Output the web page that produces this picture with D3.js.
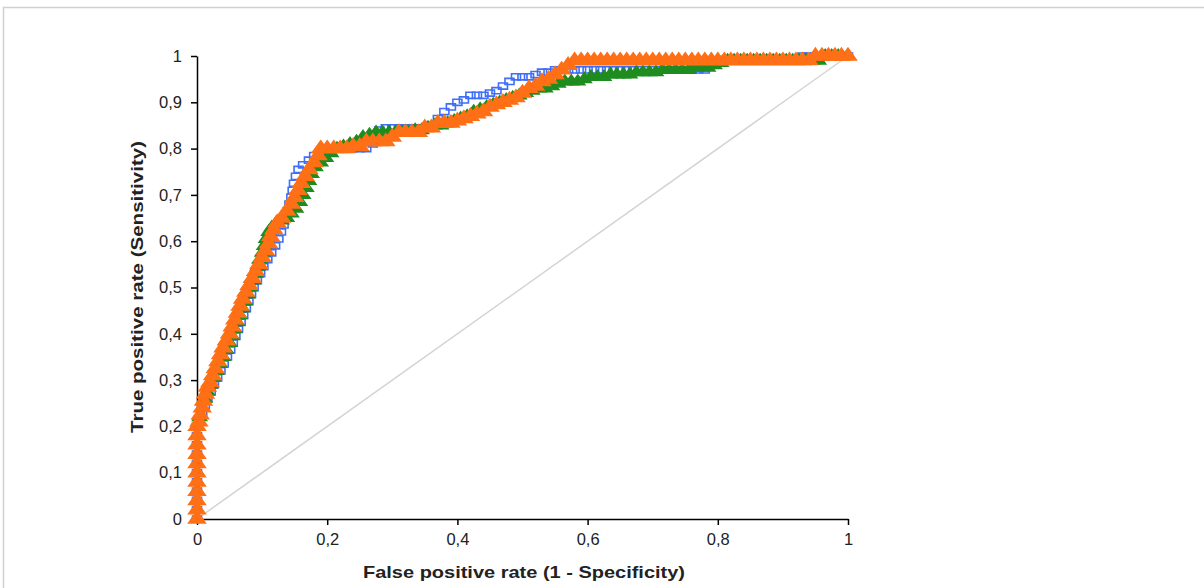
<!DOCTYPE html>
<html lang="en">
<head>
  <meta charset="UTF-8">
  <title>ROC curves</title>
  <script src="https://d3js.org/d3.v7.min.js"></script>
  <style>
    body { margin: 0; background: #fff; }
    text { font-family: Arial, "Liberation Sans", sans-serif; fill: #222; }
  </style>
</head>
<body>
  <script>
    // tick values and their labels (comma decimal)
    const xTicks = [0, 0.2, 0.4, 0.6, 0.8, 1];
    const xTickLabels = ["0", "0,2", "0,4", "0,6", "0,8", "1"];
    const yTicks = [0, 0.1, 0.2, 0.3, 0.4, 0.5, 0.6, 0.7, 0.8, 0.9, 1];
    const yTickLabels = ["0", "0,1", "0,2", "0,3", "0,4", "0,5", "0,6", "0,7", "0,8", "0,9", "1"];

    // ROC points [fpr, tpr]
    const blueRoc = [
      [0,0],[0,0.02],[0,0.04],[0,0.06],[0,0.08],[0,0.1],[0,0.12],[0,0.14],[0,0.16],[0,0.18],[0,0.2],
      [0.004,0.215],[0.008,0.23],[0.012,0.245],[0.016,0.26],[0.021,0.275],[0.026,0.29],[0.031,0.305],
      [0.036,0.32],[0.041,0.335],[0.046,0.35],[0.051,0.365],[0.055,0.38],[0.059,0.395],[0.063,0.41],
      [0.067,0.425],[0.071,0.44],[0.075,0.455],[0.079,0.47],[0.083,0.485],[0.087,0.5],[0.092,0.515],
      [0.097,0.53],[0.102,0.545],[0.108,0.56],[0.114,0.575],[0.12,0.59],[0.125,0.605],[0.129,0.62],
      [0.133,0.635],[0.136,0.65],[0.139,0.665],[0.142,0.68],[0.145,0.695],[0.147,0.71],[0.149,0.725],
      [0.152,0.74],[0.156,0.755],[0.163,0.765],[0.172,0.775],[0.18,0.785],[0.19,0.79],[0.2,0.8],
      [0.21,0.8],[0.22,0.8],[0.23,0.8],[0.24,0.8],[0.25,0.8],[0.26,0.8],[0.27,0.81],[0.275,0.825],
      [0.28,0.84],[0.29,0.845],[0.3,0.845],[0.31,0.845],[0.32,0.845],[0.33,0.845],[0.34,0.845],
      [0.35,0.845],[0.36,0.85],[0.37,0.865],[0.38,0.88],[0.39,0.89],[0.4,0.9],[0.41,0.905],
      [0.42,0.915],[0.43,0.915],[0.44,0.915],[0.45,0.92],[0.46,0.925],[0.47,0.935],[0.48,0.945],
      [0.49,0.955],[0.5,0.955],[0.51,0.955],[0.52,0.96],[0.53,0.965],[0.54,0.965],[0.55,0.97],
      [0.56,0.97],[0.57,0.97],[0.58,0.97],[0.59,0.97],[0.6,0.97],[0.61,0.97],[0.62,0.97],[0.63,0.97],
      [0.64,0.97],[0.65,0.97],[0.66,0.97],[0.67,0.97],[0.68,0.97],[0.69,0.97],[0.7,0.97],[0.71,0.97],
      [0.72,0.97],[0.73,0.97],[0.74,0.97],[0.75,0.97],[0.76,0.97],[0.77,0.97],[0.78,0.97],[0.79,0.98],
      [0.8,0.99],[0.81,0.99],[0.82,0.99],[0.83,0.99],[0.84,0.99],[0.85,0.99],[0.86,0.99],[0.87,0.99],
      [0.88,0.99],[0.89,0.99],[0.9,0.99],[0.91,0.99],[0.92,0.99],[0.93,1],[0.94,1],[0.95,1],[0.96,1],
      [0.97,1],[0.98,1],[0.99,1],[1,1]
    ];
    const greenRoc = [
      [0,0],[0,0.02],[0,0.04],[0,0.06],[0,0.08],[0,0.1],[0,0.12],[0,0.14],[0,0.16],[0,0.18],[0,0.2],
      [0.004,0.22],[0.008,0.24],[0.012,0.26],[0.016,0.275],[0.02,0.29],[0.025,0.305],[0.03,0.32],
      [0.035,0.335],[0.04,0.35],[0.045,0.365],[0.05,0.38],[0.054,0.395],[0.058,0.41],[0.062,0.425],
      [0.066,0.44],[0.07,0.455],[0.074,0.47],[0.078,0.485],[0.082,0.5],[0.086,0.515],[0.09,0.53],
      [0.093,0.545],[0.096,0.56],[0.1,0.575],[0.103,0.59],[0.106,0.605],[0.11,0.62],[0.115,0.63],
      [0.122,0.64],[0.13,0.645],[0.138,0.65],[0.145,0.66],[0.152,0.67],[0.158,0.685],[0.163,0.7],
      [0.168,0.715],[0.172,0.73],[0.176,0.745],[0.182,0.76],[0.19,0.77],[0.198,0.78],[0.206,0.79],
      [0.215,0.8],[0.225,0.805],[0.235,0.81],[0.245,0.815],[0.255,0.825],[0.265,0.83],[0.275,0.835],
      [0.285,0.835],[0.295,0.835],[0.305,0.835],[0.315,0.835],[0.325,0.835],[0.335,0.84],[0.345,0.84],
      [0.355,0.845],[0.365,0.85],[0.375,0.85],[0.385,0.855],[0.395,0.86],[0.405,0.865],[0.415,0.87],
      [0.425,0.88],[0.435,0.885],[0.445,0.89],[0.455,0.895],[0.465,0.9],[0.475,0.905],[0.485,0.91],
      [0.495,0.915],[0.505,0.92],[0.515,0.925],[0.525,0.93],[0.535,0.93],[0.545,0.935],[0.555,0.94],
      [0.565,0.945],[0.575,0.945],[0.585,0.945],[0.595,0.95],[0.605,0.955],[0.615,0.955],[0.625,0.955],
      [0.635,0.96],[0.645,0.96],[0.655,0.96],[0.665,0.96],[0.675,0.965],[0.685,0.965],[0.695,0.965],
      [0.705,0.965],[0.715,0.97],[0.725,0.97],[0.735,0.97],[0.745,0.97],[0.755,0.97],[0.765,0.975],
      [0.775,0.975],[0.785,0.975],[0.795,0.98],[0.805,0.985],[0.815,0.99],[0.825,0.99],[0.835,0.99],
      [0.845,0.99],[0.855,0.99],[0.865,0.99],[0.875,0.99],[0.885,0.99],[0.895,0.99],[0.905,0.99],
      [0.915,0.99],[0.925,0.99],[0.935,0.99],[0.945,0.99],[0.955,0.99],[0.965,1],[0.975,1],[0.985,1],
      [1,1]
    ];
    const orangeRoc = [
      [0,0],[0,0.02],[0,0.04],[0,0.06],[0,0.08],[0,0.1],[0,0.12],[0,0.14],[0,0.16],[0,0.18],[0,0.2],
      [0.003,0.21],[0.005,0.225],[0.008,0.24],[0.01,0.255],[0.013,0.27],[0.016,0.285],[0.02,0.295],
      [0.024,0.31],[0.028,0.325],[0.032,0.34],[0.036,0.355],[0.04,0.37],[0.045,0.385],[0.05,0.4],
      [0.054,0.415],[0.058,0.43],[0.062,0.445],[0.066,0.46],[0.07,0.475],[0.075,0.49],[0.08,0.505],
      [0.085,0.52],[0.09,0.535],[0.095,0.55],[0.1,0.565],[0.105,0.58],[0.11,0.595],[0.113,0.61],
      [0.118,0.625],[0.123,0.64],[0.13,0.65],[0.138,0.665],[0.145,0.68],[0.15,0.695],[0.155,0.71],
      [0.16,0.725],[0.166,0.74],[0.172,0.755],[0.18,0.77],[0.186,0.785],[0.19,0.8],[0.2,0.8],
      [0.21,0.8],[0.22,0.8],[0.23,0.8],[0.24,0.805],[0.25,0.805],[0.26,0.815],[0.27,0.815],
      [0.28,0.815],[0.29,0.815],[0.3,0.825],[0.31,0.835],[0.32,0.835],[0.33,0.835],[0.34,0.835],
      [0.35,0.845],[0.36,0.845],[0.37,0.855],[0.38,0.855],[0.39,0.855],[0.4,0.86],[0.41,0.865],
      [0.42,0.87],[0.43,0.875],[0.44,0.88],[0.45,0.89],[0.46,0.895],[0.47,0.9],[0.48,0.905],
      [0.49,0.91],[0.5,0.92],[0.51,0.93],[0.52,0.935],[0.53,0.945],[0.54,0.95],[0.55,0.96],
      [0.56,0.97],[0.57,0.98],[0.58,0.99],[0.59,0.99],[0.6,0.99],[0.61,0.99],[0.62,0.99],[0.63,0.99],
      [0.64,0.99],[0.65,0.99],[0.66,0.99],[0.67,0.99],[0.68,0.99],[0.69,0.99],[0.7,0.99],[0.71,0.99],
      [0.72,0.99],[0.73,0.99],[0.74,0.99],[0.75,0.99],[0.76,0.99],[0.77,0.99],[0.78,0.99],[0.79,0.99],
      [0.8,0.99],[0.81,0.99],[0.82,0.99],[0.83,0.99],[0.84,0.99],[0.85,0.99],[0.86,0.99],[0.87,0.99],
      [0.88,0.99],[0.89,0.99],[0.9,0.99],[0.91,0.99],[0.92,0.99],[0.93,0.99],[0.94,0.99],[0.95,1],
      [0.96,1],[0.97,1],[0.98,1],[0.99,1],[1,1]
    ];

    const width = 1204, height = 588;
    const svg = d3.select("body").append("svg")
      .attr("width", width)
      .attr("height", height);

    // light frame around the chart area
    svg.append("rect")
      .attr("x", 3.5).attr("y", 7.5)
      .attr("width", width).attr("height", height)
      .style("fill", "none")
      .style("stroke", "#d0d0d0")
      .style("stroke-width", 1.5);

    const x = d3.scaleLinear().domain([0, 1]).range([197, 848]);
    const y = d3.scaleLinear().domain([0, 1]).range([519, 56]);

    // diagonal reference line
    svg.append("line")
      .attr("x1", x(0)).attr("y1", y(0))
      .attr("x2", x(1)).attr("y2", y(1))
      .style("stroke", "#d4d4d4")
      .style("stroke-width", 1.5);

    // axes
    const xAxis = d3.axisBottom(x)
      .tickValues(xTicks)
      .tickSize(6)
      .tickSizeOuter(0)
      .tickFormat((d, i) => xTickLabels[i]);
    const yAxis = d3.axisLeft(y)
      .tickValues(yTicks)
      .tickSize(6)
      .tickSizeOuter(0)
      .tickFormat((d, i) => yTickLabels[i]);

    const gx = svg.append("g")
      .attr("transform", `translate(0,${y(0)})`)
      .call(xAxis);
    const gy = svg.append("g")
      .attr("transform", `translate(${x(0)},0)`)
      .call(yAxis);

    [gx, gy].forEach(g => {
      g.selectAll("path, line").style("stroke", "#000").style("stroke-width", 1.5);
      g.selectAll("text")
        .style("font-family", "Arial, 'Liberation Sans', sans-serif")
        .style("font-size", "16.5px")
        .style("fill", "#222");
    });
    gx.selectAll("text").attr("y", 26).attr("dy", "0");
    gy.selectAll("text").attr("x", -15);

    // series markers (blue open squares, green and orange solid triangles)
    const series = [
      { data: blueRoc, color: "#3f6ef8", fill: "none", shape: d3.symbolSquare, size: 52, sx: 1.25, sy: 0.85, sw: 1.6 },
      { data: greenRoc, color: "#1f8c1f", fill: "#1f8c1f", shape: d3.symbolTriangle, size: 70, sx: 1.1, sy: 0.9, sw: 1.5 },
      { data: orangeRoc, color: "#ff6f15", fill: "#ff6f15", shape: d3.symbolTriangle, size: 100, sx: 1.1, sy: 0.9, sw: 1.5 }
    ];

    series.forEach(s => {
      svg.append("g")
        .selectAll("path")
        .data(s.data)
        .enter()
        .append("path")
        .attr("transform", d => `translate(${x(d[0])},${y(d[1])}) scale(${s.sx},${s.sy})`)
        .attr("d", d3.symbol().type(s.shape).size(s.size))
        .attr("vector-effect", "non-scaling-stroke")
        .style("fill", s.fill)
        .style("stroke", s.color)
        .style("stroke-width", s.sw);
    });

    // axis titles
    svg.append("text")
      .attr("x", 524).attr("y", 578)
      .attr("text-anchor", "middle")
      .attr("textLength", 322)
      .attr("lengthAdjust", "spacingAndGlyphs")
      .style("font-size", "17px")
      .style("font-weight", "bold")
      .text("False positive rate (1 - Specificity)");

    svg.append("text")
      .attr("transform", "translate(143,287) rotate(-90)")
      .attr("text-anchor", "middle")
      .attr("textLength", 292)
      .attr("lengthAdjust", "spacingAndGlyphs")
      .style("font-size", "17px")
      .style("font-weight", "bold")
      .text("True positive rate (Sensitivity)");
  </script>
</body>
</html>
